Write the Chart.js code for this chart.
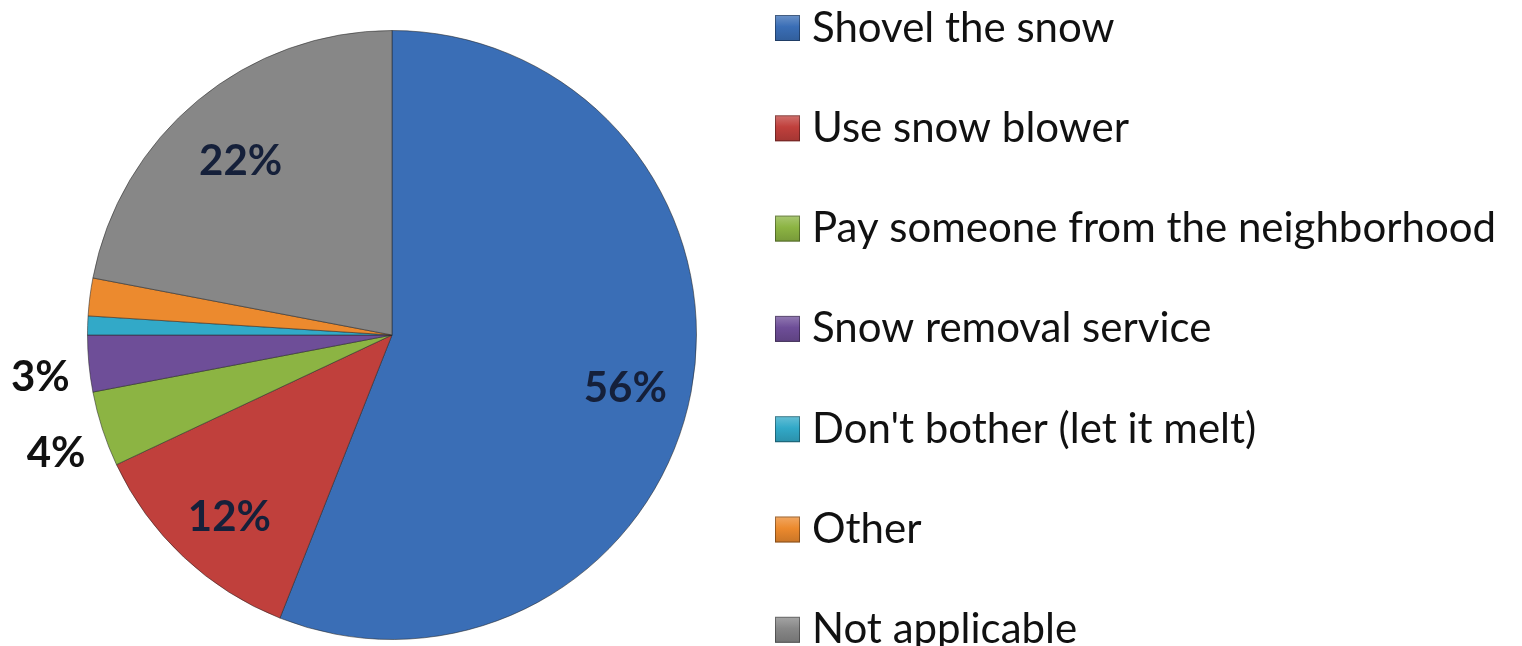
<!DOCTYPE html>
<html>
<head>
<meta charset="utf-8">
<script src="https://cdn.jsdelivr.net/npm/chart.js@4.4.1/dist/chart.umd.min.js"></script>
<style>
    html, body { margin: 0; padding: 0; background: #fff; }
    #wrap { width: 1522px; height: 646px; position: relative; }
</style>
</head>
<body>
<div id="wrap"><canvas id="pieChart"></canvas></div>
<script>
// 集計データ
const categories = [
    'Shovel the snow',
    'Use snow blower',
    'Pay someone from the neighborhood',
    'Snow removal service',
    "Don't bother (let it melt)",
    'Other',
    'Not applicable'
];
const shares = [56, 12, 4, 3, 1, 2, 22];
const sliceColors = ['#3a6eb6', '#c0403c', '#8cb443', '#6e4e98', '#32a9c8', '#ec8a2e', '#878787'];

const FONT = 'Lato, "Open Sans", sans-serif';

// 色の明暗調整
function shade(hex, amt) {
    const n = parseInt(hex.slice(1), 16);
    const f = c => Math.max(0, Math.min(255, Math.round(amt > 0 ? c + (255 - c) * amt : c * (1 + amt))));
    return `rgb(${f(n >> 16)}, ${f((n >> 8) & 255)}, ${f(n & 255)})`;
}

// ベベル風の放射グラデーション
function bevelFill(context) {
    const chart = context.chart;
    const base = sliceColors[context.dataIndex];
    const arc = chart.getDatasetMeta(0).data[context.dataIndex];
    if (!arc || !arc.outerRadius) return base;
    const g = chart.ctx.createRadialGradient(arc.x, arc.y, 0, arc.x, arc.y, arc.outerRadius);
    g.addColorStop(0, shade(base, -0.04));
    g.addColorStop(0.88, base);
    g.addColorStop(0.95, shade(base, 0.12));
    g.addColorStop(1, shade(base, -0.18));
    return g;
}

// ラベル描画 (大きい値は内側、小さい値は外側)
const sliceLabels = {
    id: 'sliceLabels',
    afterDatasetsDraw(chart) {
        const ctx = chart.ctx;
        const meta = chart.getDatasetMeta(0);
        ctx.save();
        ctx.font = 'bold 42px ' + FONT;
        ctx.textAlign = 'center';
        ctx.textBaseline = 'middle';
        meta.data.forEach((arc, i) => {
            const v = shares[i];
            if (v < 3) return;
            const p = arc.getProps(['x', 'y', 'startAngle', 'endAngle', 'outerRadius'], true);
            const mid = (p.startAngle + p.endAngle) / 2;
            const k = v < 5 ? 1.16 : 0.78;
            const x = p.x + Math.cos(mid) * p.outerRadius * k;
            const y = p.y + Math.sin(mid) * p.outerRadius * k + 9;
            ctx.fillStyle = v < 5 ? '#111' : '#15203a';
            ctx.fillText(v + '%', x, y);
        });
        ctx.restore();
    }
};

// 凡例 (右側、縦並び)
const sideLegend = {
    id: 'sideLegend',
    afterDraw(chart) {
        const ctx = chart.ctx;
        ctx.save();
        ctx.font = '42px ' + FONT;
        ctx.textBaseline = 'middle';
        categories.forEach((name, i) => {
            const y = 28 + i * 100.3;
            const g = ctx.createLinearGradient(0, y - 13, 0, y + 13);
            g.addColorStop(0, shade(sliceColors[i], 0.25));
            g.addColorStop(0.45, sliceColors[i]);
            g.addColorStop(1, shade(sliceColors[i], -0.15));
            ctx.fillStyle = g;
            ctx.fillRect(775, y - 13, 25, 26);
            ctx.strokeStyle = 'rgba(0,0,0,0.35)';
            ctx.lineWidth = 1;
            ctx.strokeRect(775.5, y - 12.5, 24, 25);
            ctx.fillStyle = '#111';
            ctx.fillText(name, 812, y);
        });
        ctx.restore();
    }
};

new Chart(document.getElementById('pieChart'), {
    type: 'pie',
    data: {
        labels: categories,
        datasets: [{
            data: shares,
            backgroundColor: bevelFill,
            borderColor: 'rgba(40,40,40,0.55)',
            borderWidth: 1
        }]
    },
    options: {
        responsive: true,
        maintainAspectRatio: false,
        animation: false,
        layout: { padding: { left: 86, right: 824, top: 30, bottom: 6 } },
        plugins: {
            legend: { display: false },
            tooltip: { enabled: false }
        }
    },
    plugins: [sliceLabels, sideLegend]
});
</script>
</body>
</html>
